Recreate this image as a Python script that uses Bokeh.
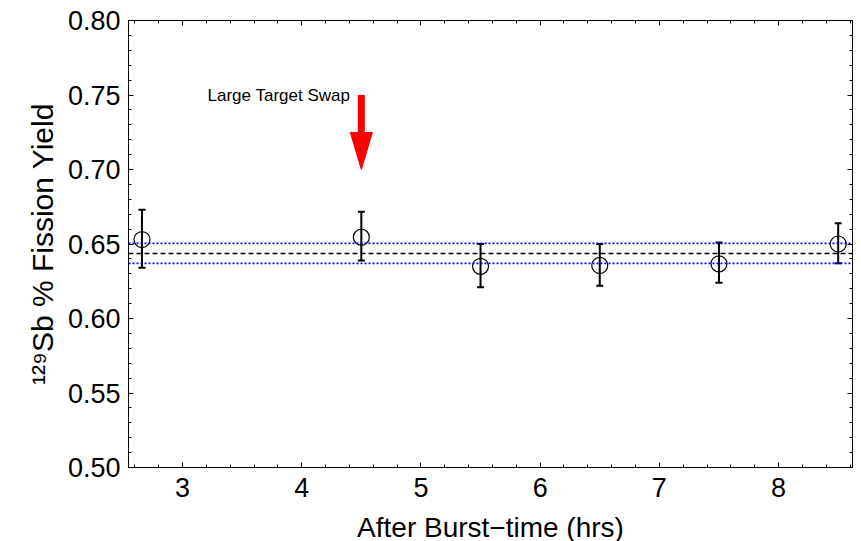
import math
from bokeh.plotting import figure
from bokeh.models import (Range1d, LinearAxis, SingleIntervalTicker, NumeralTickFormatter,
                          Span, Whisker, ColumnDataSource, Label, TeeHead, CustomJSTickFormatter)
from bokeh.embed import file_html
from bokeh.resources import INLINE

# ---- data ----
hours = [2.66, 4.5, 5.5, 6.5, 7.5, 8.5]
yield_pct = [0.653, 0.6546, 0.635, 0.6356, 0.6367, 0.650]
err_upper = [0.673, 0.6716, 0.650, 0.650, 0.651, 0.664]
err_lower = [0.634, 0.639, 0.621, 0.622, 0.624, 0.637]
mean_yield = 0.6437
mean_sigma = 0.0067

x_range = (2.547, 8.62)
y_range = (0.50, 0.80)

swap_label = "Large Target Swap"
swap_label_pos = (3.21, 0.7497)
swap_time = 4.5
arrow_from, arrow_to = 0.75, 0.70

y_label = "\u00b9\u00b2\u2079Sb % Fission Yield"
x_label = "After Burst\u2212time (hrs)"

FONT = "Liberation Sans"
FRAME_W, FRAME_H = 724, 447

p = figure(frame_width=FRAME_W, frame_height=FRAME_H,
           x_range=Range1d(*x_range), y_range=Range1d(*y_range),
           x_axis_type=None, y_axis_type=None,
           output_backend="svg", toolbar_location=None,
           min_border_left=128, min_border_top=20, min_border_right=1, min_border_bottom=70)
p.outline_line_color = "black"
p.outline_line_width = 1
p.background_fill_color = "white"
p.border_fill_color = "white"


def make_axis(ticker, labels):
    ax = LinearAxis(ticker=ticker)
    ax.major_tick_in = 5
    ax.major_tick_out = 0
    ax.minor_tick_in = 3
    ax.minor_tick_out = 0
    ax.axis_line_color = "black"
    ax.major_tick_line_color = "black"
    ax.minor_tick_line_color = "black"
    ax.major_label_text_font = FONT
    ax.major_label_text_color = "black"
    ax.major_label_text_font_size = "27px"
    if not labels:
        ax.formatter = CustomJSTickFormatter(code="return ''")
        ax.major_label_standoff = 0
    return ax


xt = SingleIntervalTicker(interval=1, num_minor_ticks=5)
yt = SingleIntervalTicker(interval=0.05, num_minor_ticks=5)

xb = make_axis(xt, True)
xb.major_label_standoff = 10
xb.axis_label = x_label
xb.axis_label_text_font = FONT
xb.axis_label_text_color = "black"
xb.axis_label_text_font_style = "normal"
xb.axis_label_text_font_size = "28px"
xb.axis_label_standoff = 12
p.add_layout(xb, "below")

yl = make_axis(yt, True)
yl.formatter = NumeralTickFormatter(format="0.00")
yl.major_label_standoff = 8
yl.axis_label = y_label
yl.axis_label_text_font = FONT
yl.axis_label_text_color = "black"
yl.axis_label_text_font_style = "normal"
yl.axis_label_text_font_size = "30px"
yl.axis_label_standoff = 6
p.add_layout(yl, "left")

p.add_layout(make_axis(SingleIntervalTicker(interval=1, num_minor_ticks=5), False), "above")
p.add_layout(make_axis(SingleIntervalTicker(interval=0.05, num_minor_ticks=5), False), "right")

px_per_x = FRAME_W / (x_range[1] - x_range[0])
px_per_y = FRAME_H / (y_range[1] - y_range[0])

# mean and +-1 sigma lines
p.add_layout(Span(location=mean_yield, dimension="width", line_color="black",
                  line_dash="5 3", line_width=1.5))
for loc in (mean_yield + mean_sigma, mean_yield - mean_sigma):
    p.add_layout(Span(location=loc, dimension="width", line_color="#0000ff",
                      line_dash="2 2", line_width=1.8))

src = ColumnDataSource(dict(x=hours, y=yield_pct, upper=err_upper, lower=err_lower))
p.add_layout(Whisker(base="x", upper="upper", lower="lower", source=src,
                     line_color="black", line_width=2,
                     upper_head=TeeHead(size=7, line_width=2, line_color="black"),
                     lower_head=TeeHead(size=7, line_width=2, line_color="black")))
p.scatter("x", "y", source=src, marker="circle", size=16, fill_color=None,
          line_color="black", line_width=1.2)

# annotation arrow
head_len = 37 / px_per_y
head_half = 11 / px_per_x
p.segment(x0=[swap_time], y0=[arrow_from], x1=[swap_time], y1=[arrow_to + head_len],
          line_color="red", line_width=7)
p.patch([swap_time - head_half, swap_time + head_half, swap_time],
        [arrow_to + head_len, arrow_to + head_len, arrow_to],
        fill_color="red", line_color="red")
p.add_layout(Label(x=swap_label_pos[0], y=swap_label_pos[1], text=swap_label,
                   text_font=FONT, text_font_size="17px", text_color="black",
                   text_align="left", text_baseline="middle"))

open("out.html", "w").write(file_html(p, INLINE))
